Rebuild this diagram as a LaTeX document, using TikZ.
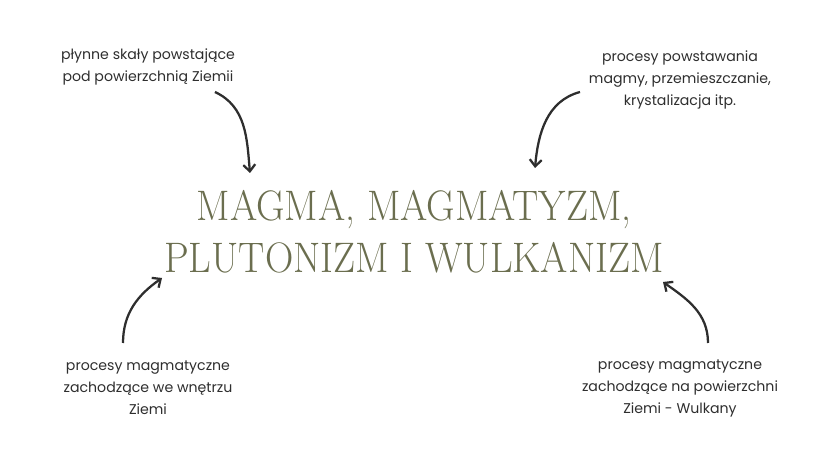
\documentclass[tikz,border=0pt]{standalone}
\usepackage{fontspec}
\setsansfont{Poppins}
\usepackage{tikz}
\usetikzlibrary{arrows.meta}
\usetikzlibrary{positioning}

\definecolor{olive}{HTML}{6B6E4F}
\definecolor{ink}{HTML}{2E2E2E}

\begin{document}
\begin{tikzpicture}[x=0.75pt,y=0.75pt,
        note/.style={align=center, text=ink, font=\sffamily\fontsize{10.6}{16.5}\selectfont},
        curly/.style={-{Straight Barb[length=5pt,width=9pt]}, line width=1.7pt, ink}]
        \useasboundingbox (0,0) rectangle (828,466);
        \node[align=center, text=olive, font=\fontsize{32}{39}\selectfont,
            xscale=0.92, transform shape] (title)
            at (414,234) {MAGMA, MAGMATYZM,\\PLUTONIZM I WULKANIZM};
        \node[note] (skaly) at (148,399) {płynne skały powstające\\pod powierzchnią Ziemii};
        \node[note] (procesy) at (680,386) {procesy powstawania\\magmy, przemieszczanie,\\krystalizacja itp.};
        \node[note] (wnetrze) at (148,78) {procesy magmatyczne\\zachodzące we wnętrzu\\Ziemi};
        \node[note] (wulkany) at (680,78) {procesy magmatyczne\\zachodzące na powierzchni\\Ziemi - Wulkany};
        % arrow ends
        \coordinate (a1) at (215,374);
        \coordinate (b1) at (250,293);
        \coordinate (a2) at (580,374);
        \coordinate (b2) at (535,298);
        \coordinate (a3) at (123,123);
        \coordinate (b3) at (162,188);
        \coordinate (a4) at (708,123);
        \coordinate (b4) at (663,184);
        \draw[curly] (a1) to[out=-25, in=95] (b1);
        \draw[curly] (a2) to[out=195, in=85] (b2);
        \draw[curly] (a3) to[out=90, in=215] (b3);
        \draw[curly] (a4) to[out=90, in=-35] (b4);
    \end{tikzpicture}
\end{document}
